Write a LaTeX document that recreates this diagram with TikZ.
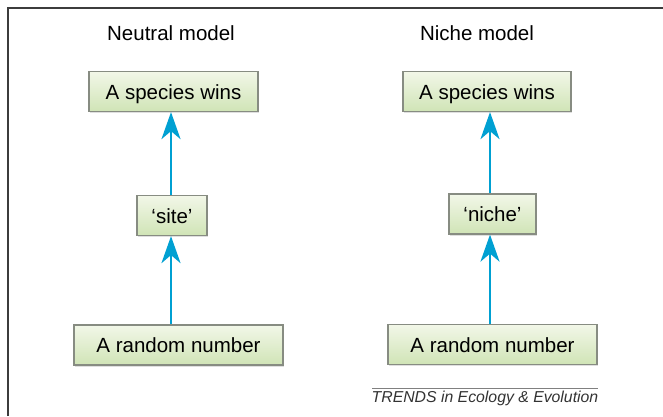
\documentclass[tikz,border=0pt]{standalone}
\usepackage{fontspec}
\setmainfont{Liberation Sans}
\usetikzlibrary{arrows.meta,shadows}
\definecolor{arrowblue}{RGB}{0,160,210}
\definecolor{boxtop}{RGB}{242,247,232}
\definecolor{boxbot}{RGB}{208,228,182}
\definecolor{boxedge}{RGB}{135,140,130}
\definecolor{framegray}{RGB}{60,60,60}
\tikzset{
  greenbox/.style={rectangle, draw=boxedge, line width=1.2pt, top color=boxtop, bottom color=boxbot,
    inner sep=0pt, minimum height=40pt, text height=16.5pt, text depth=1.5pt,
    font=\fontsize{20.5}{24}\selectfont,
    drop shadow={shadow xshift=1.2pt, shadow yshift=-1.5pt, opacity=0.25}},
  title/.style={font=\fontsize{20.5}{24}\selectfont, inner sep=0pt},
  flow/.style={draw=arrowblue, line width=2.6pt, -{Stealth[length=27pt, width=19pt, inset=8pt]}},
}
\begin{document}
\begin{tikzpicture}[x=1pt, y=-1pt]
\useasboundingbox (0,0) rectangle (663,416);
\fill[white] (0,0) rectangle (663,416);
% frame
\draw[framegray, line width=1.6pt] (8,416) -- (8,8) -- (663,8);
% titles
\node[title] (tl) at (171,33) {Neutral model};
\node[title] (tr) at (477,33) {Niche model};
% left column
\node[greenbox, minimum width=169pt] (ltop) at (173.5,91.5) {A species wins};
\node[greenbox, minimum width=70pt] (lmid) at (172,215.5) {‘site’};
\node[greenbox, minimum width=209pt] (lbot) at (178.5,345) {A random number};
% right column
\node[greenbox, minimum width=168pt] (rtop) at (487,91.5) {A species wins};
\node[greenbox, minimum width=87pt] (rmid) at (492.5,214) {‘niche’};
\node[greenbox, minimum width=209pt] (rbot) at (492.5,344.5) {A random number};
% arrow x positions
\coordinate (lx) at (171,0);
\coordinate (rx) at (490,0);
\draw[flow] (lbot.north -| lx) -- (lmid.south -| lx);
\draw[flow] (lmid.north -| lx) -- (ltop.south -| lx);
\draw[flow] (rbot.north -| rx) -- (rmid.south -| rx);
\draw[flow] (rmid.north -| rx) -- (rtop.south -| rx);
% credit
\coordinate (cl) at (372,388);
\coordinate (cr) at (598,388);
\draw[gray, line width=1pt] (cl) -- (cr);
\node[font=\fontsize{15.8}{18}\selectfont\itshape, text=black!80, inner sep=0pt] (credit) at (485,398.5) {TRENDS in Ecology \& Evolution};
\end{tikzpicture}
\end{document}
